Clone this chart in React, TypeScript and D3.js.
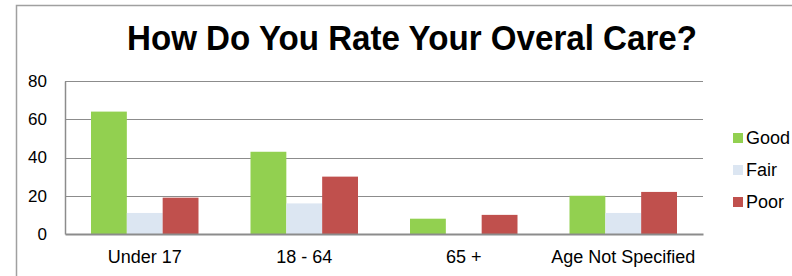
import React, { useRef, useEffect } from 'react'
import * as d3 from 'd3'

const categories = ['Under 17', '18 - 64', '65 +', 'Age Not Specified']
const seriesNames = ['Good', 'Fair', 'Poor']
const good = [64, 43, 8, 20]
const fair = [11, 16, 0, 11]
const poor = [19, 30, 10, 22]
const yTicks = [0, 20, 40, 60, 80]
const colors = ['#92D050', '#DCE6F2', '#C0504D']
const title = 'How Do You Rate Your Overal Care?'

const W = 792
const H = 276
const margin = { left: 65, right: 89, top: 81, bottom: 42 }
const FONT = "'Liberation Sans', Arial, sans-serif"

const App = () => {
  const svgRef = useRef(null)

  useEffect(() => {
    const svg = d3.select(svgRef.current)
    svg.selectAll('*').remove()

    const values = [good, fair, poor]
    const x0 = d3.scaleBand().domain(categories).range([margin.left, W - margin.right]).padding(0)
    const x1 = d3.scaleBand().domain(seriesNames).range([26, x0.bandwidth() - 26]).padding(0)
    const y = d3.scaleLinear().domain([0, 80]).range([H - margin.bottom, margin.top])

    // outer chart border (cut off at right / bottom)
    svg.append('path')
      .attr('d', `M16.5,${H}V5.5H${W}`)
      .attr('fill', 'none')
      .attr('stroke', '#a0a0a0')
      .attr('stroke-width', 1.5)

    svg.append('text')
      .attr('x', 127)
      .attr('y', 50)
      .attr('font-family', FONT)
      .attr('font-weight', 'bold')
      .attr('font-size', 35)
      .attr('textLength', 570)
      .attr('lengthAdjust', 'spacingAndGlyphs')
      .attr('fill', '#000')
      .text(title)

    // gridlines
    svg.append('g').selectAll('line')
      .data(yTicks.filter(d => d > 0))
      .enter().append('line')
      .attr('x1', margin.left).attr('x2', W - margin.right)
      .attr('y1', d => Math.round(y(d)) + 0.5).attr('y2', d => Math.round(y(d)) + 0.5)
      .attr('stroke', '#8c8c8c')
      .attr('stroke-width', 1)

    // y axis
    const yAxis = d3.axisLeft(y).tickValues(yTicks).tickSize(0).tickPadding(18)
    const gy = svg.append('g').attr('transform', `translate(${margin.left},0)`).call(yAxis)
    gy.select('.domain').attr('stroke', '#8c8c8c').attr('stroke-width', 1.5)
    gy.selectAll('text').attr('font-family', FONT).attr('font-size', 17).attr('fill', '#000')

    // bars
    const groups = svg.append('g').selectAll('g')
      .data(categories)
      .enter().append('g')
      .attr('transform', d => `translate(${x0(d)},0)`)
    groups.selectAll('rect')
      .data((d, i) => seriesNames.map((s, k) => ({ s, v: values[k][i], c: colors[k] })))
      .enter().append('rect')
      .attr('x', d => x1(d.s))
      .attr('width', x1.bandwidth())
      .attr('y', d => y(d.v))
      .attr('height', d => y(0) - y(d.v))
      .attr('fill', d => d.c)

    // x axis baseline and labels
    const xAxis = d3.axisBottom(x0).tickSize(0).tickPadding(16)
    const gx = svg.append('g').attr('transform', `translate(0,${y(0)})`).call(xAxis)
    gx.select('.domain').attr('stroke', '#8c8c8c').attr('stroke-width', 2)
    gx.selectAll('text').attr('font-family', FONT).attr('font-size', 18).attr('fill', '#000')

    // legend
    const legend = svg.append('g').selectAll('g')
      .data(seriesNames)
      .enter().append('g')
      .attr('transform', (d, i) => `translate(733,${138 + i * 32})`)
    legend.append('rect')
      .attr('x', 0).attr('y', -5).attr('width', 10).attr('height', 10)
      .attr('fill', (d, i) => colors[i])
    legend.append('text')
      .attr('x', 13).attr('y', 0).attr('dy', '0.35em')
      .attr('font-family', FONT).attr('font-size', 18).attr('fill', '#000')
      .text(d => d)
  }, [])

  return (
    <svg ref={svgRef} width={W} height={H} style={{ position: 'absolute', left: 0, top: 0, background: '#fff' }} />
  )
}

export default App
